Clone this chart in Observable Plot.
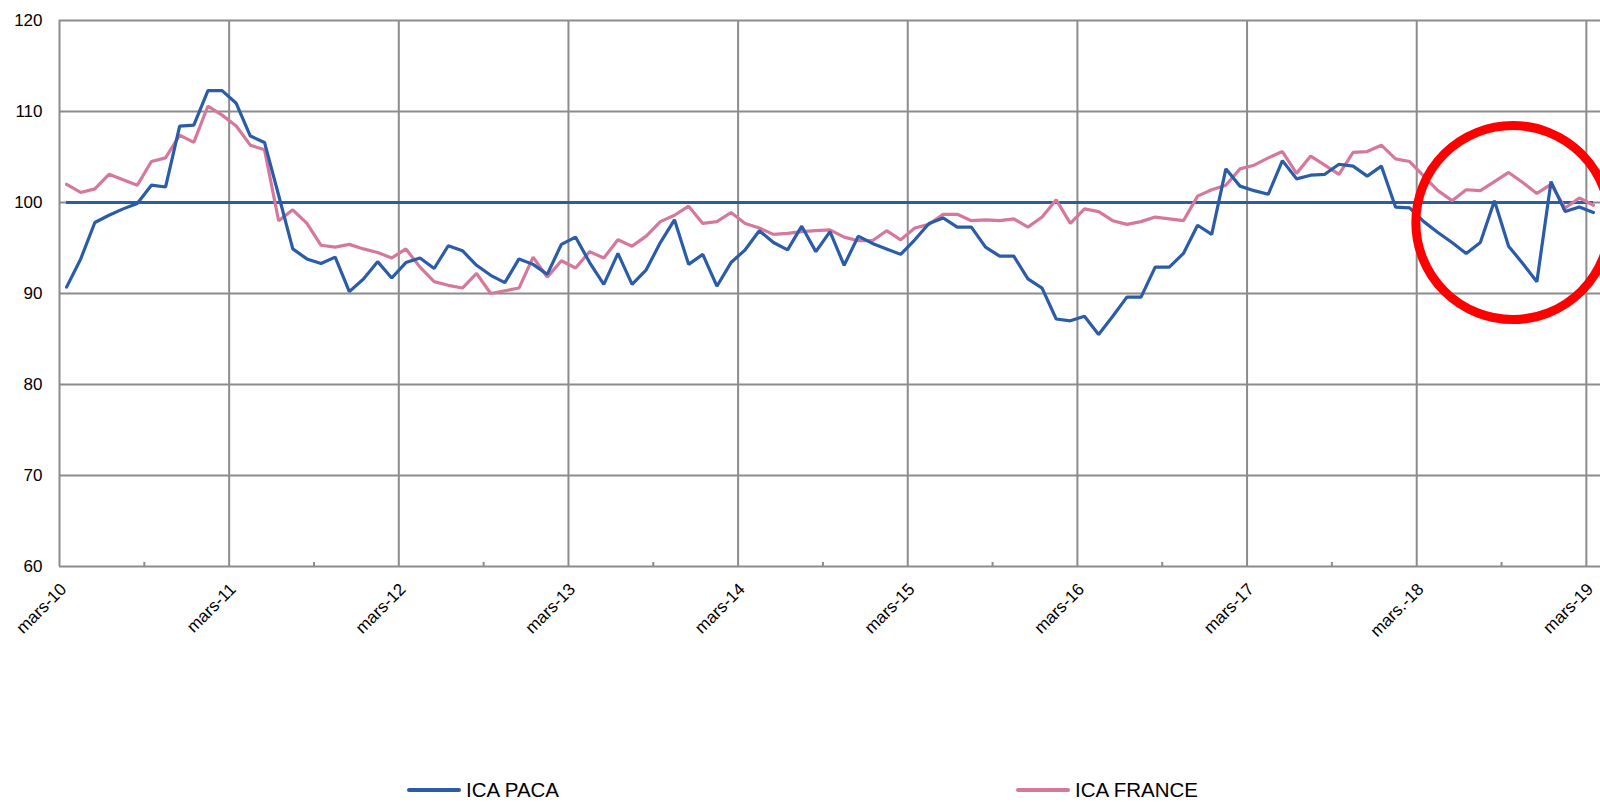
<!DOCTYPE html>
<html>
<head>
<meta charset="utf-8">
<script src="https://cdn.jsdelivr.net/npm/d3@7"></script>
<script src="https://cdn.jsdelivr.net/npm/@observablehq/plot@0.6"></script>
<style>
  html, body { margin: 0; padding: 0; background: #fff; }
  #chart { position: relative; width: 1600px; height: 802px; overflow: hidden; font-family: "Liberation Sans", Arial, sans-serif; }
  #chart svg { position: absolute; left: 0; top: 0; }
  .legend-item { position: absolute; top: 778px; height: 24px; display: flex; align-items: center; font-size: 20.5px; line-height: 1; color: #000; }
  .legend-item .sw { width: 54px; height: 4px; border-radius: 2px; margin-right: 5px; }
</style>
</head>
<body>
<div id="chart"></div>
<script>
// ---- Data -------------------------------------------------------------
// Monthly categories: March 2010 -> March 2019 (109 months)
const firstMonth = new Date(Date.UTC(2010, 2, 1));
const months = d3.utcMonth.range(firstMonth, new Date(Date.UTC(2019, 3, 1)));

const icaPaca = [
  90.7, 93.8, 97.8, 98.6, 99.3, 99.9, 101.9, 101.7, 108.4, 108.5, 112.3, 112.3,
  110.9, 107.3, 106.6, 100.8, 94.9, 93.8, 93.3, 94.0, 90.2, 91.6, 93.5, 91.7,
  93.4, 93.9, 92.75, 95.25, 94.7, 93.1, 92.0, 91.2, 93.8, 93.2, 92.1, 95.4,
  96.2, 93.4, 91.0, 94.4, 91.0, 92.6, 95.6, 98.1, 93.2, 94.3, 90.8, 93.4,
  94.8, 96.9, 95.6, 94.8, 97.4, 94.6, 96.8, 93.1, 96.3, 95.5, 94.9, 94.3,
  95.9, 97.7, 98.3, 97.3, 97.3, 95.1, 94.1, 94.1, 91.6, 90.6, 87.2, 87.0,
  87.5, 85.5, 87.5, 89.6, 89.6, 92.9, 92.9, 94.4, 97.5, 96.5, 103.7, 101.8,
  101.3, 100.9, 104.6, 102.6, 103.0, 103.1, 104.2, 104.0, 102.9, 104.0, 99.5, 99.4,
  97.9, 96.7, 95.6, 94.4, 95.6, 100.2, 95.2, 93.3, 91.3, 102.3, 99.0, 99.5,
  98.9
];

const icaFrance = [
  102.0, 101.1, 101.5, 103.1, 102.5, 101.9, 104.5, 104.9, 107.4, 106.6, 110.6, 109.6,
  108.4, 106.3, 105.8, 98.0, 99.2, 97.7, 95.3, 95.1, 95.4, 94.9, 94.5, 93.9,
  94.9, 92.9, 91.3, 90.9, 90.6, 92.2, 90.0, 90.3, 90.6, 94.0, 91.8, 93.6,
  92.8, 94.6, 93.9, 95.9, 95.2, 96.3, 97.9, 98.6, 99.6, 97.7, 97.9, 98.9,
  97.7, 97.2, 96.5, 96.6, 96.8, 96.9, 97.0, 96.2, 95.8, 95.8, 96.9, 95.9,
  97.2, 97.6, 98.7, 98.7, 98.0, 98.1, 98.0, 98.2, 97.3, 98.4, 100.3, 97.7,
  99.3, 99.0, 98.0, 97.6, 97.9, 98.4, 98.2, 98.0, 100.7, 101.4, 101.9, 103.7,
  104.1, 104.9, 105.6, 103.2, 105.1, 104.1, 103.1, 105.5, 105.6, 106.3, 104.8, 104.5,
  102.9, 101.3, 100.2, 101.4, 101.3, 102.3, 103.3, 102.2, 101.0, 102.0, 99.4, 100.5,
  99.7
];

const referenceLevel = [100];
const yTicks = [60, 70, 80, 90, 100, 110, 120];
const xTickLabels = ["mars-10", "mars-11", "mars-12", "mars-13", "mars-14", "mars-15", "mars-16", "mars-17", "mars.-18", "mars-19"];
const seriesNames = ["ICA PACA", "ICA FRANCE"];
const seriesColors = ["#2A5CA8", "#D6789C"];
// Highlighted zone (annotation circle): around mid-2018, value ~97.8
const highlight = [{month: 102.8, value: 97.8}];

// ---- Build tables ------------------------------------------------------
// category index: month k is drawn in the middle of its category slot
const rows = [];
months.forEach((m, k) => {
  rows.push({pos: k + 0.5, value: icaPaca[k], series: seriesNames[0]});
  rows.push({pos: k + 0.5, value: icaFrance[k], series: seriesNames[1]});
});
const yearTicks = xTickLabels.map((_, i) => i * 12);
const halfYearTicks = xTickLabels.slice(0, -1).map((_, i) => i * 12 + 6);
const nCat = months.length;

const grid = "#8C8C8C";

const chart = Plot.plot({
  width: 1600,
  height: 650,
  marginLeft: 59,
  marginRight: 0,
  marginTop: 20,
  marginBottom: 84,
  style: {fontFamily: "'Liberation Sans', Arial, sans-serif", fontSize: "17px", color: "#000", background: "#fff", overflow: "visible"},
  x: {type: "linear", domain: [0, nCat], axis: null, label: null},
  y: {domain: [60, 120], axis: null, label: null},
  marks: [
    Plot.ruleY(yTicks, {stroke: grid, strokeWidth: 2}),
    Plot.ruleX(yearTicks, {stroke: grid, strokeWidth: 2}),
    Plot.ruleX(halfYearTicks, {y1: 60, y2: 60, insetTop: -4, stroke: grid, strokeWidth: 2}),
    Plot.axisY({ticks: yTicks, tickSize: 0, tickPadding: 17, fontSize: 17, stroke: null, label: null}),
    Plot.axisX({ticks: yearTicks, tickSize: 0, tickPadding: 20, tickRotate: -45, dx: 4, fontSize: 17, label: null,
                tickFormat: (d) => xTickLabels[yearTicks.indexOf(d)]}),
    Plot.ruleY(referenceLevel, {x1: 0.5, x2: nCat - 0.5, stroke: seriesColors[0], strokeWidth: 3}),
    Plot.line(rows.filter(d => d.series === seriesNames[1]), {x: "pos", y: "value", stroke: seriesColors[1], strokeWidth: 3.2, strokeLinejoin: "miter"}),
    Plot.line(rows.filter(d => d.series === seriesNames[0]), {x: "pos", y: "value", stroke: seriesColors[0], strokeWidth: 3.2, strokeLinejoin: "miter"}),
    Plot.dot(highlight, {x: "month", y: "value", r: 97, stroke: "#FF0000", strokeWidth: 9, fill: "none"})
  ]
});

const container = document.getElementById("chart");
container.appendChild(chart);

// ---- Legend (HTML, below the SVG) --------------------------------------
const legendX = [407, 1016];
seriesNames.forEach((name, i) => {
  const item = document.createElement("div");
  item.className = "legend-item";
  item.style.left = legendX[i] + "px";
  const sw = document.createElement("span");
  sw.className = "sw";
  sw.style.background = seriesColors[i];
  const label = document.createElement("span");
  label.textContent = name;
  item.appendChild(sw);
  item.appendChild(label);
  container.appendChild(item);
});
</script>
</body>
</html>
